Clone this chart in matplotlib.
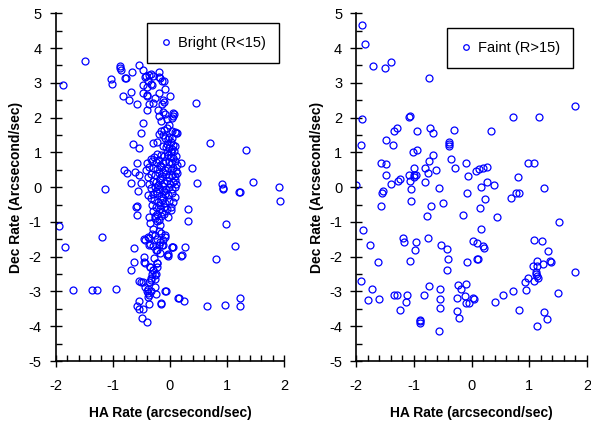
import numpy as np
import matplotlib
matplotlib.use("Agg")
import matplotlib.pyplot as plt
from matplotlib.ticker import MultipleLocator

plt.rcParams['font.family'] = ['Liberation Sans', 'DejaVu Sans']
plt.rcParams['axes.unicode_minus'] = False

# Bright stars (R<15): HA rate, Dec rate
bright_x = [
    # upper arm and outliers
    -1.88, -1.48, -1.13, -1.04, -1.01, -0.88, -0.87, -0.85, -0.78, -0.77, -0.82, -0.68, -0.71, -0.66,
    -0.54, -0.48, -0.57, -0.48, -0.50, -0.64, -0.54, -0.58, -0.80, -0.75, -0.62, -0.69, -0.51, -0.55, -0.56,
    -0.30, -0.20, -0.23, -0.40, -0.40, -0.42, -0.36, -0.33, -0.30, -0.44, -0.38, -0.34, -0.32, -0.47, -0.48,
    -0.41, -0.19, -0.20, -0.14, -0.17, -0.11, -0.08,
    -0.20, -0.27, -0.30, -0.36, -0.13, -0.10, -0.14, -0.21, -0.19, -0.12, -0.08, -0.05, -0.15, -0.41,
    0.00, 0.46, 0.05, 0.07, 0.06, 0.04, -0.01, 0.03, 0.10, -0.08, -0.04, -0.10, -0.06,
    0.70, 1.33, 0.38, 0.19, 0.47, 0.91, 0.92, 1.45, 1.90, 1.21,
    -0.05, 0.02, 0.05, -0.02, 0.04, 0.08, -0.12, -0.16, 0.09, 0.13,
    # dense core
    -0.12, -0.07, -0.02, 0.03, 0.07, -0.05, 0.01,
    -0.22, -0.16, -0.10, -0.04, 0.02, 0.06, 0.11, -0.28, -0.34,
    -0.31, -0.25, -0.19, -0.13, -0.08, -0.02, 0.03, 0.08, 0.12, -0.40, -0.17,
    -0.36, -0.29, -0.22, -0.15, -0.09, -0.04, 0.01, 0.06, 0.10, -0.42, -0.12,
    -0.33, -0.26, -0.20, -0.14, -0.07, -0.01, 0.04, 0.09, 0.13, -0.38, -0.18,
    -0.30, -0.24, -0.17, -0.11, -0.05, 0.00, 0.05, 0.10, -0.36, -0.21, 0.08,
    -0.33, -0.27, -0.19, -0.13, -0.07, -0.02, 0.04, 0.09, -0.24, -0.10,
    -0.30, -0.22, -0.16, -0.09, -0.03, 0.03, 0.08, -0.34, -0.12,
    -0.28, -0.21, -0.14, -0.08, -0.02, 0.05, -0.31, -0.17,
    -0.25, -0.18, -0.11, -0.05, 0.01, -0.29, -0.14,
    -0.22, -0.16, -0.10, -0.04, -0.27, -0.19,
    # lower arm and outliers
    -1.94, -1.83, -1.69, -1.37, -1.28, -0.95, -1.19, -0.59, -0.58, -0.57, -0.39, -0.63, -0.63, -0.69,
    -0.45, -0.44, -0.55, -0.51, -0.48, -0.58, -0.55, -0.54, -0.47, -0.49, -0.41, -0.37, -0.16, -0.08,
    -0.43, -0.39, -0.36, -0.33, -0.26, -0.25, -0.39, -0.36, -0.33, -0.23, -0.24, -0.27, -0.29, -0.35, -0.33,
    -0.05, 0.21, 0.27, 0.03, 0.04, -0.22, -0.20, -0.14, -0.13, -0.08, -0.36, -0.45, -0.43, -0.36,
    -0.36, -0.35, 0.31, 0.32, 0.02, 0.14, 0.15, 0.24, 0.65, 0.96, 1.22, 1.23, 0.81, 1.14, 0.98,
    1.93, 1.22, 0.92,
    -0.26, -0.23, -0.17, -0.29, -0.32, -0.38, -0.23, -0.09, -0.35, 0.06, -0.03,
    -0.20, -0.15, -0.26, -0.12, -0.18, -0.30, -0.25, -0.17, -0.28, -0.22,
    -0.45, -0.35, -0.29, -0.22, -0.03, 0.20, -0.32, -0.27, -0.07, -0.16, -0.41, -0.38,
]
bright_y = [
    2.95, 3.64, -0.05, 3.12, 2.97, 3.47, 3.43, 3.36, 3.14, 3.15, 2.63, 2.74, 2.52, 3.32,
    3.51, 3.37, 2.38, 1.83, 1.56, 1.24, 1.13, 0.69, 0.50, 0.41, 0.43, 0.12, 0.12, 0.35, -0.12,
    1.26, 1.54, 1.30, 2.64, 2.87, 3.19, 3.22, 3.25, 3.20, 3.17, 3.05, 2.98, 2.93, 2.93, 2.71,
    2.61, 3.31, 3.17, 3.06, 3.14, 3.05, 2.83,
    2.70, 2.55, 2.42, 2.40, 2.50, 2.45, 2.40, 2.22, 2.05, 2.15, 2.10, 1.95, 1.90, 2.21,
    2.62, 2.43, 2.12, 2.10, 2.05, 2.00, 1.80, 1.60, 1.55, 1.40, 1.38, 1.65, 1.70,
    1.28, 1.08, 0.55, 0.70, 0.11, 0.10, -0.03, 0.15, 0.01, -0.13,
    1.25, 1.30, 1.22, 1.45, 1.40, 1.18, 1.50, 1.60, 1.58, 1.55,
    1.18, 1.15, 1.12, 1.10, 1.05, 1.02, 1.00,
    0.95, 0.92, 0.90, 0.93, 0.88, 0.85, 0.90, 0.86, 0.82,
    0.75, 0.72, 0.78, 0.70, 0.76, 0.72, 0.68, 0.74, 0.65, 0.70, 0.64,
    0.58, 0.55, 0.52, 0.57, 0.50, 0.55, 0.48, 0.56, 0.45, 0.48, 0.44,
    0.38, 0.34, 0.40, 0.32, 0.38, 0.30, 0.36, 0.33, 0.40, 0.28, 0.25,
    0.18, 0.14, 0.20, 0.12, 0.17, 0.10, 0.15, 0.08, 0.10, 0.05, 0.20,
    -0.02, 0.00, -0.05, 0.02, -0.04, 0.01, -0.06, -0.01, -0.10, -0.12,
    -0.20, -0.18, -0.25, -0.20, -0.24, -0.18, -0.28, -0.30, -0.32,
    -0.38, -0.42, -0.36, -0.45, -0.40, -0.44, -0.50, -0.52,
    -0.58, -0.62, -0.56, -0.64, -0.58, -0.68, -0.72,
    -0.78, -0.84, -0.78, -0.86, -0.90, -0.95,
    -1.11, -1.72, -2.96, -2.96, -2.95, -2.92, -1.44, -0.56, -0.53, -0.80, -0.22, -1.74, -2.14, -2.38,
    -2.01, -2.18, -2.70, -2.72, -2.73, -3.41, -3.28, -3.51, -3.51, -3.76, -3.87, -3.35, -3.35, -2.99,
    -2.87, -2.92, -2.72, -2.67, -2.87, -3.06, -3.17, -3.10, -2.98, -2.18, -2.49, -2.53, -2.37, -2.31, -2.60,
    -1.95, -1.95, -1.73, -1.73, -1.73, -1.82, -1.66, -1.65, -1.67, -1.42, -1.66, -1.50, -1.52, -1.45,
    -0.85, -1.02, -0.64, -0.96, -0.67, -3.20, -3.20, -3.27, -3.43, -3.38, -3.19, -3.42, -2.07, -1.68, -1.07,
    -0.41, -0.14, -0.05,
    -0.82, -0.96, -1.10, -1.20, -1.34, -1.44, -1.49, -1.39, -1.63, -1.73, -1.92,
    -1.25, -1.32, -1.38, -1.52, -1.58, -1.70, -1.80, -1.88, -2.05, -2.30,
    -2.16, -2.30, -2.37, -2.18, -1.99, -1.99, -2.50, -2.64, -2.98, -3.34, -3.00, -3.05,
]

# Faint stars (R>15)
faint_x = [
    -1.89, -1.84, -1.71, -1.49, -1.40, -0.74, -1.90, -1.92, -2.00, -1.08, -1.07, -1.34, -1.29, -1.48,
    -1.36, -0.72, -0.66, -0.94, -0.31, -0.39, -0.39, -0.39, -0.67, -0.94, -1.02, -0.35, -0.74, -1.56,
    -1.48, -1.48, -1.00, -1.00, -0.97, -1.00, -1.09, -1.06, -0.81, -0.75, -0.62, -0.28, -0.09, -0.06,
    0.07, 0.13, 0.19, 0.27, 0.34, 0.72, 1.16, 1.80, 0.98, 1.08, 0.81, -1.40, -1.28, -1.23, -0.81,
    -1.04, -0.56, -0.07, 0.17, 0.26, 0.39, 1.25, -1.54, -1.55,
    0.69, 0.77, 0.83, -1.57, -1.04, -0.70, -0.50, 0.24, 0.15, -0.77, -0.14, 0.44, 1.52, -1.88, 0.17,
    -1.19, -1.17, -1.76, -0.97, -0.98, -0.76, -0.52, -0.43, -0.41, -0.43, 0.02, 0.10, 0.20, 0.22,
    1.08, 1.22, 1.33, -1.62, -1.07, -0.075, 0.09, 0.11,
    1.13, 1.06, 1.13, 1.24, 1.36, 1.38, 1.11, 1.13, 1.09, 1.15, 1.12,
    0.98, 0.92, 0.94, 0.72, 1.80, -1.92, -1.73, -1.80, -1.61, -1.34, -1.29, -1.11, -1.14, -1.23,
    -0.90, -0.90, -0.90, -0.74, -0.82, -0.54, -0.54, -0.54, -0.56,
    -0.24, -0.18, -0.10, -0.25, -0.11, -0.09, -0.04, 0.03, 0.04, -0.25, -0.21,
    0.40, 0.55, 0.83, 1.14, 1.25, 1.31, 1.50,
]
faint_y = [
    4.67, 4.11, 3.47, 3.43, 3.60, 3.13, 1.96, 1.20, 0.07, 2.03, 2.05, 1.62, 1.70, 1.35,
    1.20, 1.71, 1.57, 1.60, 1.63, 1.30, 1.23, 1.19, 0.93, 1.08, 1.00, 0.81, 0.74, 0.68,
    0.66, 0.34, 0.55, 0.34, 0.34, 0.29, 0.34, 0.18, 0.54, 0.40, 0.49, 0.54, 0.69, 0.31,
    0.46, 0.51, 0.55, 0.59, 1.61, 2.02, 2.02, 2.32, 0.69, 0.69, 0.30, 0.08, 0.17, 0.24, 0.15,
    -0.04, -0.02, -0.16, 0.01, 0.14, 0.05, -0.02, -0.10, -0.18,
    -0.31, -0.18, -0.18, -0.55, -0.41, -0.55, -0.46, -0.34, -0.59, -0.84, -0.81, -0.85, -0.99, -1.22, -1.19,
    -1.46, -1.59, -1.65, -1.58, -1.80, -1.46, -1.65, -1.78, -2.06, -2.39, -1.55, -1.62, -1.70, -1.74,
    -1.53, -1.56, -1.84, -2.15, -2.11, -2.15, -2.08, -2.08,
    -2.12, -2.26, -2.26, -2.22, -2.12, -2.16, -2.43, -2.55, -2.69, -2.62, -2.50,
    -2.60, -2.72, -2.95, -3.00, -2.44, -2.71, -2.92, -3.25, -3.22, -3.10, -3.09, -3.11, -3.30, -3.54,
    -3.81, -3.86, -3.91, -2.85, -3.11, -2.94, -3.22, -3.47, -4.14,
    -2.80, -2.93, -2.78, -3.18, -3.12, -3.34, -3.32, -3.20, -3.23, -3.56, -3.76,
    -3.31, -3.09, -3.54, -4.00, -3.59, -3.80, -3.03,
]

fig = plt.figure(figsize=(5.91, 4.21), dpi=100)
ax1 = fig.add_axes([0.0942, 0.1425, 0.3868, 0.826])
ax2 = fig.add_axes([0.6024, 0.1425, 0.3909, 0.826])

panels = [(ax1, bright_x, bright_y, 'Bright (R<15)', (0.977, 0.972)),
          (ax2, faint_x, faint_y, 'Faint (R>15)', (0.939, 0.959))]

for ax, xs, ys, lab, anchor in panels:
    ax.plot(xs, ys, 'o', ls='none', mfc='none', mec='#0000ff', ms=5.0, mew=0.9, label=lab)
    ax.set_xlim(-2, 2)
    ax.set_ylim(-5, 5)
    ax.xaxis.set_major_locator(MultipleLocator(1))
    ax.xaxis.set_minor_locator(MultipleLocator(0.2))
    ax.yaxis.set_major_locator(MultipleLocator(1))
    ax.yaxis.set_minor_locator(MultipleLocator(0.5))
    ax.tick_params(which='major', direction='inout', length=8, width=1, labelsize=10.5)
    ax.tick_params(axis='x', which='major', pad=9)
    ax.tick_params(axis='y', which='major', pad=6)
    ax.tick_params(which='minor', direction='in', length=4, width=1)
    ax.spines['top'].set_visible(False)
    ax.spines['right'].set_visible(False)
    for s in ('left', 'bottom'):
        ax.spines[s].set_linewidth(1.2)
    ax.set_xlabel('HA Rate (arcsecond/sec)', fontsize=10, fontweight='bold', labelpad=9)
    ax.set_ylabel('Dec Rate (Arcsecond/sec)', fontsize=10, fontweight='bold', labelpad=4)
    leg = ax.legend(loc='upper right', bbox_to_anchor=anchor, borderaxespad=0,
                    fancybox=False, edgecolor='black', framealpha=1, fontsize=10.5,
                    handlelength=0.8, handletextpad=0.4, borderpad=0.9, markerscale=0.8)
    leg.get_frame().set_linewidth(1.0)

fig.savefig('out.png', dpi=100)
